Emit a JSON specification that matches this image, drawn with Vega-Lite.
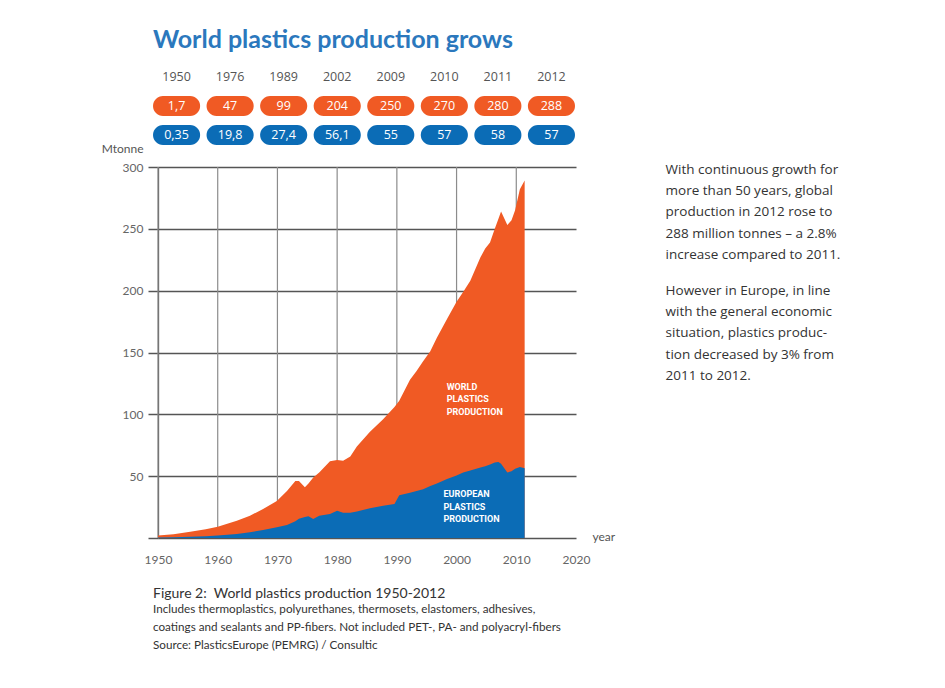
{
  "$schema": "https://vega.github.io/schema/vega-lite/v6.json",
  "background": "white",
  "padding": {"left": 101, "top": 28, "right": 5, "bottom": 5},
  "bounds": "flush",
  "spacing": 22,
  "config": {"view": {"stroke": null}, "font": "Lato"},
  "vconcat": [
    {
      "width": 422,
      "height": 78,
      "title": {"text": "World plastics production grows", "anchor": "start", "frame": "group", "dx": -5, "offset": 14, "font": "Lato", "fontSize": 25, "fontWeight": "bold", "color": "#2b78bd"},
      "data": {"values": [
        {"col": "1950", "row": "year", "label": "1950"}, {"col": "1950", "row": "world", "label": "1,7"}, {"col": "1950", "row": "europe", "label": "0,35"},
        {"col": "1976", "row": "year", "label": "1976"}, {"col": "1976", "row": "world", "label": "47"}, {"col": "1976", "row": "europe", "label": "19,8"},
        {"col": "1989", "row": "year", "label": "1989"}, {"col": "1989", "row": "world", "label": "99"}, {"col": "1989", "row": "europe", "label": "27,4"},
        {"col": "2002", "row": "year", "label": "2002"}, {"col": "2002", "row": "world", "label": "204"}, {"col": "2002", "row": "europe", "label": "56,1"},
        {"col": "2009", "row": "year", "label": "2009"}, {"col": "2009", "row": "world", "label": "250"}, {"col": "2009", "row": "europe", "label": "55"},
        {"col": "2010", "row": "year", "label": "2010"}, {"col": "2010", "row": "world", "label": "270"}, {"col": "2010", "row": "europe", "label": "57"},
        {"col": "2011", "row": "year", "label": "2011"}, {"col": "2011", "row": "world", "label": "280"}, {"col": "2011", "row": "europe", "label": "58"},
        {"col": "2012", "row": "year", "label": "2012"}, {"col": "2012", "row": "world", "label": "288"}, {"col": "2012", "row": "europe", "label": "57"}
      ]},
      "encoding": {
        "x": {"field": "col", "type": "ordinal", "sort": null, "scale": {"paddingInner": 0.12, "paddingOuter": 0}, "axis": null},
        "y": {"field": "row", "type": "nominal", "sort": ["year", "world", "europe"], "scale": {"paddingInner": 0.31, "paddingOuter": 0}, "axis": null}
      },
      "layer": [
        {
          "transform": [{"filter": "datum.row != 'year'"}],
          "mark": {"type": "rect", "cornerRadius": 10, "xOffset": -5},
          "encoding": {"color": {"field": "row", "type": "nominal", "scale": {"domain": ["world", "europe"], "range": ["#f05a24", "#0b6cb6"]}, "legend": null}}
        },
        {
          "mark": {"type": "text", "xOffset": -5, "font": "Open Sans", "fontSize": 12.5},
          "encoding": {
            "text": {"field": "label"},
            "color": {"condition": {"test": "datum.row == 'year'", "value": "#555555"}, "value": "white"},
            "fontWeight": {"condition": {"test": "datum.row == 'year'", "value": "normal"}, "value": 600}
          }
        }
      ]
    },
    {
      "width": 418,
      "height": 371,
      "title": {
        "text": "Figure 2:\u00a0 World plastics production 1950-2012",
        "subtitle": ["Includes thermoplastics, polyurethanes, thermosets, elastomers, adhesives,", "coatings and sealants and PP-fibers. Not included PET-, PA- and polyacryl-fibers", "Source: PlasticsEurope (PEMRG) / Consultic"],
        "orient": "bottom", "anchor": "start", "frame": "group", "dx": -5, "offset": 22,
        "font": "Lato", "fontSize": 14, "fontWeight": "normal", "color": "#333333",
        "subtitleFont": "Lato", "subtitleFontSize": 11.7, "subtitleColor": "#333333", "subtitleLineHeight": 18, "subtitlePadding": 3
      },
      "layer": [
        {
          "data": {"values": [{"decade": 1950}, {"decade": 1960}, {"decade": 1970}, {"decade": 1980}, {"decade": 1990}, {"decade": 2000}, {"decade": 2010}]},
          "mark": {"type": "rule", "color": "#8c8c8c", "strokeWidth": 1.2},
          "encoding": {"x": {"field": "decade", "type": "quantitative", "scale": {"domain": [1950, 2020], "nice": false, "zero": false},
            "axis": {"title": "year", "values": [1950, 1960, 1970, 1980, 1990, 2000, 2010, 2020], "format": "d", "grid": false, "ticks": false, "domain": false, "labelPadding": 16, "labelFont": "Lato", "labelFontSize": 12, "labelColor": "#666666", "labelFlush": false, "labelOverlap": false, "titleX": 434, "titleY": -2, "titleAlign": "left", "titleBaseline": "middle", "titleFont": "Lato", "titleFontSize": 12, "titleFontWeight": "normal", "titleColor": "#555555"}}}
        },
        {
          "data": {"name": "prod", "values": [
            {"year": 1950, "world": 2.0, "europe": 0.4},
            {"year": 1952.6, "world": 3.0, "europe": 0.6},
            {"year": 1955.4, "world": 5.0, "europe": 1.0},
            {"year": 1958, "world": 7.0, "europe": 1.5},
            {"year": 1960, "world": 9.0, "europe": 2.0},
            {"year": 1963.2, "world": 14, "europe": 3.2},
            {"year": 1965.4, "world": 18, "europe": 4.6},
            {"year": 1967.6, "world": 23.5, "europe": 6.5},
            {"year": 1969.9, "world": 30, "europe": 8.6},
            {"year": 1971.6, "world": 38, "europe": 10.5},
            {"year": 1973, "world": 46, "europe": 13.5},
            {"year": 1973.6, "world": 46, "europe": 15.5},
            {"year": 1974.6, "world": 41, "europe": 17},
            {"year": 1975.2, "world": 44, "europe": 17.5},
            {"year": 1976, "world": 49, "europe": 15.4},
            {"year": 1977, "world": 53, "europe": 18},
            {"year": 1978.8, "world": 62, "europe": 19.5},
            {"year": 1980, "world": 63, "europe": 22},
            {"year": 1981, "world": 62.5, "europe": 20.5},
            {"year": 1982.2, "world": 66, "europe": 20.5},
            {"year": 1983.3, "world": 74, "europe": 21.5},
            {"year": 1985.5, "world": 86, "europe": 24},
            {"year": 1987.7, "world": 96, "europe": 26},
            {"year": 1989.6, "world": 106, "europe": 27.5},
            {"year": 1990.4, "world": 111, "europe": 34.5},
            {"year": 1992.2, "world": 128, "europe": 36.5},
            {"year": 1993.3, "world": 135, "europe": 38},
            {"year": 1994.4, "world": 143, "europe": 39.5},
            {"year": 1995.6, "world": 151, "europe": 42},
            {"year": 1996.7, "world": 162, "europe": 44},
            {"year": 1998.4, "world": 177, "europe": 47.7},
            {"year": 2000, "world": 191, "europe": 50.5},
            {"year": 2001.1, "world": 199, "europe": 53},
            {"year": 2002.3, "world": 208, "europe": 54.5},
            {"year": 2004, "world": 227, "europe": 57},
            {"year": 2004.8, "world": 234, "europe": 58},
            {"year": 2005.6, "world": 239, "europe": 59.5},
            {"year": 2006.4, "world": 250, "europe": 61},
            {"year": 2007, "world": 258, "europe": 61.5},
            {"year": 2007.45, "world": 264, "europe": 60},
            {"year": 2008.5, "world": 253, "europe": 53},
            {"year": 2009.2, "world": 257, "europe": 54},
            {"year": 2009.8, "world": 265, "europe": 56},
            {"year": 2010.6, "world": 282, "europe": 57.5},
            {"year": 2011.4, "world": 289, "europe": 56.5}
          ]},
          "mark": {"type": "area", "color": "#f05a24"},
          "encoding": {
            "x": {"field": "year", "type": "quantitative", "scale": {"domain": [1950, 2020], "nice": false, "zero": false}},
            "y": {"field": "world", "type": "quantitative", "stack": null, "scale": {"domain": [0, 300], "nice": false},
              "axis": {"title": "Mtonne", "values": [0, 50, 100, 150, 200, 250, 300], "labelExpr": "datum.value == 0 ? '' : datum.label", "grid": true, "gridColor": "#555555", "gridWidth": 1.5, "domain": true, "domainColor": "#555555", "domainWidth": 1.3, "tickSize": 10, "tickColor": "#555555", "tickWidth": 1.5, "labelPadding": 5, "labelFont": "Lato", "labelFontSize": 12, "labelColor": "#666666", "titleAngle": 0, "titleAlign": "right", "titleBaseline": "middle", "titleX": -15, "titleY": -19, "titleFont": "Lato", "titleFontSize": 12, "titleFontWeight": "normal", "titleColor": "#555555"}}
          }
        },
        {
          "data": {"name": "prod"},
          "mark": {"type": "area", "color": "#0b6cb6"},
          "encoding": {
            "x": {"field": "year", "type": "quantitative", "scale": {"domain": [1950, 2020], "nice": false, "zero": false}},
            "y": {"field": "europe", "type": "quantitative", "stack": null, "scale": {"domain": [0, 300], "nice": false}}
          }
        },
        {
          "data": {"values": [{"label": "WORLD\nPLASTICS\nPRODUCTION"}]},
          "mark": {"type": "text", "align": "left", "baseline": "top", "lineBreak": "\n", "lineHeight": 12.5, "font": "Roboto", "fontSize": 9, "fontWeight": "bold", "color": "white"},
          "encoding": {
            "x": {"datum": 1998.35, "type": "quantitative", "scale": {"domain": [1950, 2020], "nice": false, "zero": false}},
            "y": {"datum": 125.7, "type": "quantitative", "scale": {"domain": [0, 300], "nice": false}},
            "text": {"field": "label"}
          }
        },
        {
          "data": {"values": [{"label": "EUROPEAN\nPLASTICS\nPRODUCTION"}]},
          "mark": {"type": "text", "align": "left", "baseline": "top", "lineBreak": "\n", "lineHeight": 12.5, "font": "Roboto", "fontSize": 9, "fontWeight": "bold", "color": "white"},
          "encoding": {
            "x": {"datum": 1997.8, "type": "quantitative", "scale": {"domain": [1950, 2020], "nice": false, "zero": false}},
            "y": {"datum": 38.6, "type": "quantitative", "scale": {"domain": [0, 300], "nice": false}},
            "text": {"field": "label"}
          }
        },
        {
          "data": {"values": [{"para": "With continuous growth for\nmore than 50 years, global\nproduction in 2012 rose to\n288 million tonnes – a 2.8%\nincrease compared to 2011."}]},
          "mark": {"type": "text", "align": "left", "baseline": "top", "lineBreak": "\n", "lineHeight": 21.2, "font": "Open Sans", "fontSize": 13.5, "color": "#333333", "dy": -4},
          "encoding": {
            "x": {"datum": 2035, "type": "quantitative", "scale": {"domain": [1950, 2020], "nice": false, "zero": false}},
            "y": {"datum": 300, "type": "quantitative", "scale": {"domain": [0, 300], "nice": false}},
            "text": {"field": "para"}
          }
        },
        {
          "data": {"values": [{"para": "However in Europe, in line\nwith the general economic\nsituation, plastics produc-\ntion decreased by 3% from\n2011 to 2012."}]},
          "mark": {"type": "text", "align": "left", "baseline": "top", "lineBreak": "\n", "lineHeight": 21.2, "font": "Open Sans", "fontSize": 13.5, "color": "#333333", "dy": -4},
          "encoding": {
            "x": {"datum": 2035, "type": "quantitative", "scale": {"domain": [1950, 2020], "nice": false, "zero": false}},
            "y": {"datum": 202.2, "type": "quantitative", "scale": {"domain": [0, 300], "nice": false}},
            "text": {"field": "para"}
          }
        }
      ]
    }
  ]
}
